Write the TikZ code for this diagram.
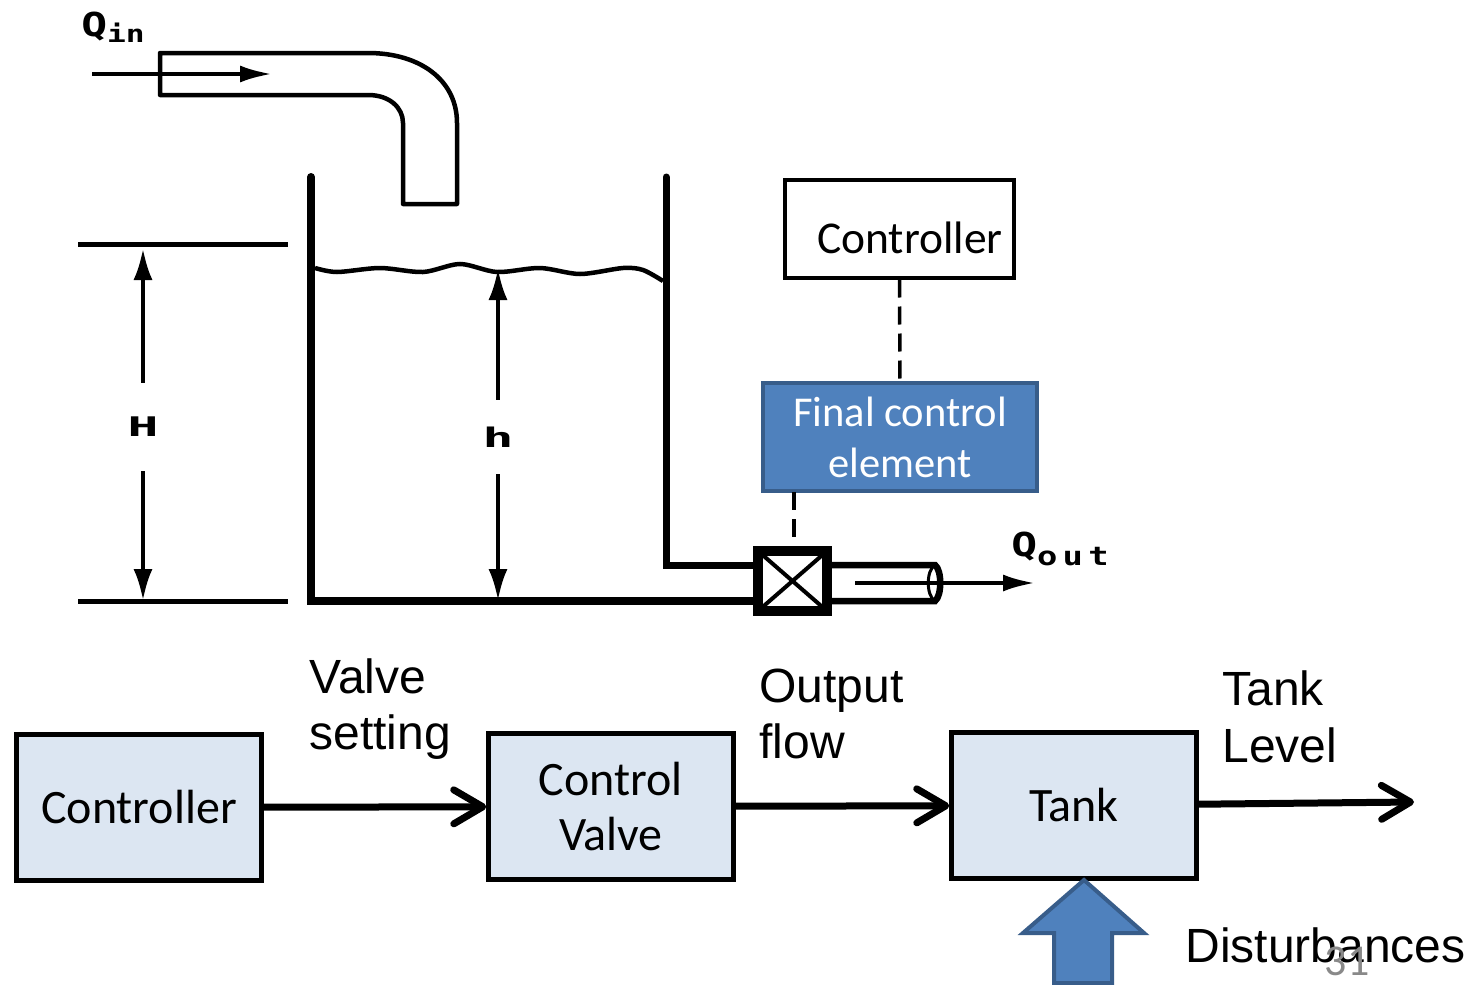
\documentclass[tikz,border=0pt]{standalone}
\usepackage{fontspec}
\setmainfont{Liberation Sans}
\newfontfamily\calibrifont{Carlito}
\newfontfamily\plotfont{DejaVu Sans Mono}[FakeStretch=1.3]
\newfontfamily\subfont{DejaVu Sans Mono}[FakeStretch=1.3,LetterSpace=20]
\newfontfamily\dimfont{DejaVu Sans Mono}[FakeStretch=1.9]
\usepackage{xcolor}
\usetikzlibrary{arrows.meta, positioning, calc}
\definecolor{boxcolor}{HTML}{DCE6F2}
\definecolor{fillcolor}{HTML}{4F81BD}
\definecolor{edgecolor}{HTML}{385D8A}
\definecolor{pagecolor}{HTML}{898989}

\begin{document}
\begin{tikzpicture}[
    x=1pt, y=-1pt,
    block/.style={rectangle, draw=black, line width=4.5pt, fill=boxcolor, minimum width=245pt, minimum height=146pt, align=center, font=\fontsize{48}{55}\selectfont\calibrifont},
    lbl/.style={anchor=west, align=left, font=\fontsize{48}{56.5}\selectfont},
    plot lbl/.style={font=\fontsize{33}{38}\selectfont\plotfont\bfseries, inner sep=0pt},
    dim lbl/.style={font=\fontsize{27}{30}\selectfont\dimfont\bfseries, inner sep=0pt},
    wall/.style={line width=8pt, line cap=round, line join=miter},
    pipe/.style={line width=4.5pt, line join=round},
    flow/.style={line width=4pt, -{Latex[length=32pt,width=17pt]}},
    dim/.style={line width=4.5pt, -{Latex[length=32pt,width=19pt]}},
    ref/.style={line width=5pt},
    link/.style={line width=3.5pt, dashed, dash pattern=on 18pt off 9pt},
    signal/.style={line width=7pt, -{Straight Barb[length=29pt,width=34pt,round]}},
    cross/.style={path picture={
        \draw[black, line width=4pt] (path picture bounding box.south west) -- (path picture bounding box.north east);
        \draw[black, line width=4pt] (path picture bounding box.south east) -- (path picture bounding box.north west);
    }}
]
\useasboundingbox (0,0) rectangle (1468,985);

% -- INLET PIPE --
\node[plot lbl] (qin) at (113,27) {Q\raisebox{-6pt}{\fontsize{24}{28}\selectfont\plotfont\bfseries in}};
\draw[pipe] (368,53) -- (160,53) -- (160,95) -- (368,95)
    .. controls (390,95) and (403,108) .. (403,123) -- (403,204) -- (457,204) -- (457,123)
    .. controls (457,80) and (420,53) .. (368,53);
\coordinate (inA) at (92,74);
\coordinate (inB) at (272,74);
\draw[flow] (inA) -- (inB);

% -- TANK --
\draw[wall] (311,177) -- (311,600.5) -- (757,600.5);
\draw[line width=7pt, line cap=round] (666,177) -- (666,565) -- (757,565);
\draw[line width=4.5pt] plot[smooth] coordinates {(315,268) (337,272) (380,268) (423,272) (460,264) (497,272) (540,268) (580,274) (623,268) (643,270) (663,281)};

% -- LEVEL MARKS --
\draw[ref] (78,244) -- (288,244);
\draw[ref] (78,601) -- (288,601);
\node[dim lbl, minimum height=88pt] (H) at (143,427) {H};
\coordinate (Htop) at (143,248);
\coordinate (Hbot) at (143,601);
\draw[dim] (H) -- (Htop);
\draw[dim] (H) -- (Hbot);
\node[dim lbl, minimum height=74pt] (h) at (498,437) {h};
\coordinate (htop) at (498,268);
\coordinate (hbot) at (498,601);
\draw[dim] (h) -- (htop);
\draw[dim] (h) -- (hbot);

% -- OUTLET AND VALVE --
\draw[line width=6.5pt] (828,565) -- (935,565) .. controls (942,570) and (942,596) .. (935,601) -- (828,601);
\draw[line width=3pt] (935,565) .. controls (926,570) and (926,596) .. (935,601);
\node[rectangle, draw=black, line width=10pt, fill=white, minimum width=69pt, minimum height=60pt, cross] (valve) at (792.5,581) {};
\coordinate (outA) at (855,583);
\coordinate (outB) at (1035,583);
\draw[flow] (outA) -- (outB);
\node[plot lbl] (qout) at (1060,549) {Q\raisebox{-9pt}{\fontsize{26}{28}\selectfont\subfont\bfseries out}};

% -- CONTROL LOOP --
\node[rectangle, draw=black, line width=4pt, fill=white, minimum width=229pt, minimum height=98pt, font=\fontsize{45.5}{55}\selectfont\calibrifont] (ctrl) at (899.5,228.5) {\hspace*{21pt}\rule{0pt}{51pt}Controller};
\node[rectangle, draw=edgecolor, line width=4pt, fill=fillcolor, text=white, minimum width=274pt, minimum height=108pt, align=center, font=\fontsize{42.5}{51}\selectfont\calibrifont] (final) at (900,437) {Final control\\element};
\draw[link] (ctrl.south) -- (final.north);
\coordinate (finalS) at (794,492);
\coordinate (valveN) at (794,547);
\draw[link] (finalS) -- (valveN);

% -- BLOCK DIAGRAM --
\node[block] (ctrlb) at (139,807.5) {Controller};
\node[block] (valveb) at (611,806.5) {Control\\Valve};
\node[block] (tankb) at (1074,805.5) {Tank};
\coordinate (levelEnd) at (1414,802);
\draw[signal] (ctrlb) -- (valveb);
\draw[signal] (valveb) -- (tankb);
\draw[signal] (tankb) -- (levelEnd);

\node[lbl] (setting) at (306,709) {Valve\\setting};
\node[lbl] (flowlbl) at (756,714) {Output\\flow};
\node[lbl] (levellbl) at (1219,717) {Tank\\Level};

% -- DISTURBANCE --
\draw[line width=4pt, draw=edgecolor, fill=fillcolor, line join=miter] (1084,880) -- (1144,933) -- (1112,933) -- (1112,983) -- (1054,983) -- (1054,933) -- (1023,933) -- cycle;
\node[lbl] (dist) at (1182,945) {Disturbances};
\node[text=pagecolor, font=\fontsize{44}{50}\selectfont\calibrifont, inner sep=0pt] (pagenum) at (1347,961) {31};

\end{tikzpicture}
\end{document}
